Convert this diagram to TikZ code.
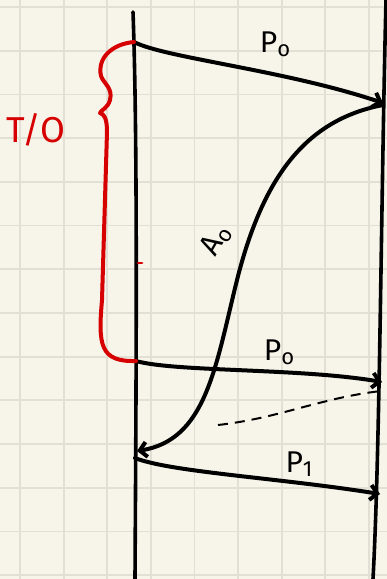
\documentclass[tikz,border=0pt]{standalone}
\usepackage{fontspec}
\setmainfont{Fira Sans}
\usetikzlibrary{arrows.meta,positioning}
\definecolor{paperC}{RGB}{247,245,234}
\definecolor{gridC}{RGB}{226,224,212}
\definecolor{inkR}{RGB}{214,0,0}
\newcommand{\lowsub}[1]{\raisebox{-4pt}{\fontsize{22}{22}\selectfont #1}}

\begin{document}
\begin{tikzpicture}[
  x=1pt, y=-1pt,
  gridline/.style={draw=gridC, line width=1.8pt},
  life/.style={draw=black, line width=3.6pt, line cap=round},
  msg/.style={draw=black, line width=4pt, line cap=round, line join=round,
    -{Straight Barb[length=7pt,width=15pt]}},
  lost/.style={draw=black, line width=2pt, dash pattern=on 10pt off 7pt},
  brace/.style={draw=inkR, line width=4pt, line cap=round, line join=round},
  lbl/.style={font=\fontsize{30}{32}\selectfont, inner sep=0pt},
  redlbl/.style={lbl, text=inkR, font=\fontsize{36}{38}\selectfont}
]
\fill[paperC] (0,0) rectangle (387,579);
\useasboundingbox (0,0) rectangle (387,579);
\foreach \i in {0,...,8}
  \draw[gridline] ({20+43.6*\i},0) -- ({20+43.6*\i},579);
\foreach \i in {0,...,13}
  \draw[gridline] (0,{7+43.7*\i}) -- (387,{7+43.7*\i});

\coordinate (Ltop) at (133,12);
\coordinate (Lbot) at (135,579);
\coordinate (Rtop) at (386,0);
\coordinate (Rbot) at (373,579);
\draw[life] (Ltop) .. controls (138,150) and (136,400) .. (Lbot);
\draw[life] (Rtop) .. controls (381,200) and (380,450) .. (Rbot);

\coordinate (p0s) at (134,42);
\coordinate (p0e) at (383,103);
\coordinate (a0s) at (383,105);
\coordinate (a0m) at (236,284);
\coordinate (a0e) at (137,451);
\coordinate (q0s) at (136,361);
\coordinate (q0e) at (382,382);
\coordinate (ls) at (218,425);
\coordinate (le) at (381,391);
\coordinate (p1s) at (135,458);
\coordinate (p1e) at (380,494);

\draw[msg] (p0s) .. controls (165,58) and (285,70) .. (p0e);
\draw[msg] (a0s) .. controls (305,120) and (262,178) .. (a0m)
  .. controls (215,370) and (205,440) .. (a0e);
\draw[msg] (q0s) .. controls (175,372) and (300,368) .. (q0e);
\draw[lost] (ls) .. controls (280,418) and (320,398) .. (le);
\draw[msg] (p1s) .. controls (170,472) and (280,478) .. (p1e);

\draw[brace] (p0s) .. controls (112,44) and (97,58) .. (101,76)
  .. controls (104,84) and (113,88) .. (110,100)
  .. controls (108,108) and (101,110) .. (100,113)
  .. controls (104,114) and (107,118) .. (107,132)
  -- (102,300) .. controls (98,345) and (100,362) .. (q0s);
\draw[brace, line width=2.8pt] (138,263) -- (142,263);

\node[lbl] (lp0) at (275,44) {P\lowsub{o}};
\node[lbl, rotate=60] (la0) at (216,240) {A\lowsub{o}};
\node[lbl] (lq0) at (279,352) {P\lowsub{o}};
\node[lbl] (lp1) at (299,464) {P\lowsub{1}};
\node[redlbl] (lto) at (36,130) {T/O};
\end{tikzpicture}
\end{document}
